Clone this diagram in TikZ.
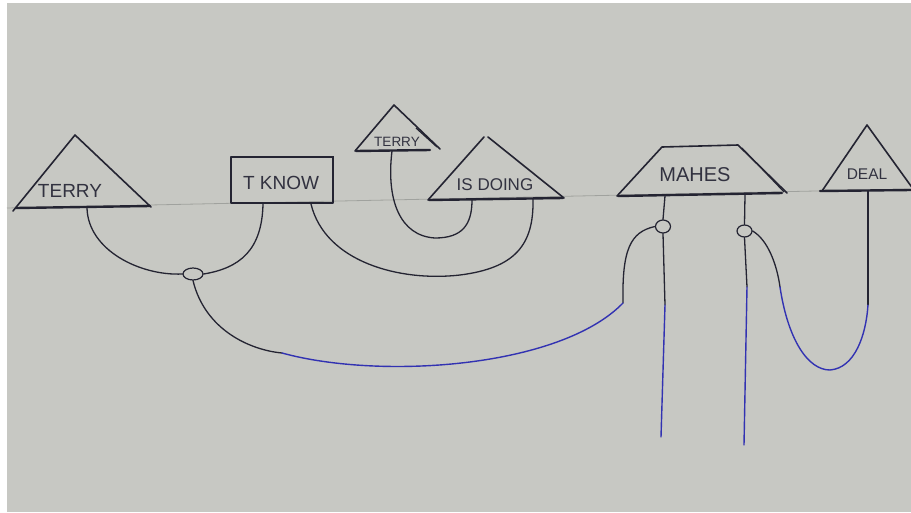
\documentclass[tikz,border=0pt]{standalone}
\usepackage{fontspec}
\setmainfont{Liberation Sans}
\usetikzlibrary{shapes.geometric}
\definecolor{paper}{RGB}{199,200,195}
\definecolor{ink}{RGB}{36,36,50}
\definecolor{blueink}{RGB}{50,50,178}
\definecolor{pencil}{RGB}{160,162,158}
\definecolor{script}{RGB}{50,50,64}
\begin{document}
\begin{tikzpicture}[x=1pt,y=-1pt,
  outline/.style={draw=ink,line width=1.6pt,line join=round,line cap=round},
  baseline/.style={draw=ink,line width=2.4pt,line cap=round},
  wire/.style={draw=ink,line width=1.3pt,line cap=round},
  bluewire/.style={draw=blueink,line width=1.4pt,line cap=round},
  knot/.style={draw=ink,line width=1.2pt,ellipse,inner sep=0pt},
  word/.style={text=script,inner sep=0pt}]
\useasboundingbox (0,0) rectangle (911,512);
\clip (0,0) rectangle (911,512);
% sheet of paper
\fill[white] (0,0) rectangle (911,512);
\fill[paper] (7,3) rectangle (911,512);
% faint pencil guide line
\draw[pencil,line width=0.8pt] (7,208) -- (911,189);

% TERRY (large triangle)
\draw[outline] (13,211) -- (75,135) -- (151,207);
\draw[baseline] (16,208) -- (150,206);
\node[word,font=\fontsize{19}{19}\selectfont] (terryA) at (70,191) {TERRY};
\coordinate (terryAfoot) at (87,208);

% T KNOW (box)
\draw[outline] (231,157) rectangle (333,203);
\draw[draw=ink,line width=2.6pt] (333,156) -- (333,200);
\node[word,font=\fontsize{19}{19}\selectfont] (know) at (281,183) {T KNOW};
\coordinate (knowfootL) at (263,204);
\coordinate (knowfootR) at (311,204);

% TERRY (small triangle)
\draw[outline] (355,151) -- (394,105) -- (440,149);
\draw[draw=ink,line width=1.2pt] (416,128) -- (437,147);
\draw[baseline] (356,151) -- (430,150);
\node[word,font=\fontsize{13.5}{13.5}\selectfont] (terryB) at (397,142) {TERRY};
\coordinate (terryBfoot) at (392,151);

% IS DOING (triangle)
\draw[outline] (428,200) -- (484,137);
\draw[outline] (488,137) -- (564,198);
\draw[baseline] (429,200) -- (563,198);
\node[word,font=\fontsize{17}{17}\selectfont] (doing) at (495,185) {IS DOING};
\coordinate (doingfootL) at (472,200);
\coordinate (doingfootR) at (533,199);

% MAHES (trapezoid)
\draw[outline] (617,196) -- (662,147) -- (738,145) -- (787,193);
\draw[draw=ink,line width=1.1pt] (742,148) -- (784,192);
\draw[baseline] (618,196) -- (782,193);
\node[word,font=\fontsize{20}{20}\selectfont] (makes) at (695,175) {MAHES};
\coordinate (makesfootL) at (665,196);
\coordinate (makesfootR) at (745,195);

% DEAL (triangle at the edge)
\draw[outline] (822,191) -- (867,125) -- (916,193);
\draw[baseline] (820,191) -- (911,190);
\node[word,font=\fontsize{15.5}{15.5}\selectfont] (deal) at (867,174) {DEAL};
\coordinate (dealfoot) at (868,191);

% knots
\node[knot,minimum width=20pt,minimum height=12pt] (k1) at (193,274) {};
\node[knot,minimum width=15pt,minimum height=13pt] (k2) at (663,226.5) {};
\node[knot,minimum width=15pt,minimum height=12pt] (k3) at (744.5,231) {};

% colour changes along the wires
\coordinate (j1) at (282,353);
\coordinate (j2) at (623,303);
\coordinate (j3) at (665,305);
\coordinate (j4) at (747,287);
\coordinate (j5) at (780,287);
\coordinate (j6) at (868,305);
\coordinate (endL) at (661,437);
\coordinate (endR) at (744,445);
\coordinate (dip) at (830,370);

% black wires
\draw[wire] (terryAfoot) .. controls (88,250) and (140,276) .. (k1.west);
\draw[wire] (k1.east) .. controls (240,268) and (262,250) .. (knowfootL);
\draw[wire] (k1.south) .. controls (205,330) and (250,350) .. (j1);
\draw[wire] (terryBfoot) .. controls (386,200) and (400,236) .. (435,238)
                         .. controls (462,238) and (472,225) .. (doingfootL);
\draw[wire] (knowfootR) .. controls (325,262) and (400,282) .. (460,275)
                        .. controls (515,268) and (534,245) .. (doingfootR);
\draw[wire] (j2) .. controls (622,250) and (630,232) .. (k2.west);
\draw[wire] (makesfootL) -- (k2.north);
\draw[wire] (k2.south) -- (j3);
\draw[wire] (makesfootR) -- (k3.north);
\draw[wire] (k3.south) -- (j4);
\draw[wire] (k3.east) .. controls (768,240) and (777,265) .. (j5);
\draw[wire] (dealfoot) -- (j6);

% blue wires
\draw[bluewire] (j1) .. controls (380,380) and (560,368) .. (j2);
\draw[bluewire] (j3) -- (endL);
\draw[bluewire] (j4) -- (endR);
\draw[bluewire] (j5) .. controls (788,340) and (808,370) .. (dip)
                     .. controls (855,368) and (866,335) .. (j6);
\end{tikzpicture}
\end{document}
